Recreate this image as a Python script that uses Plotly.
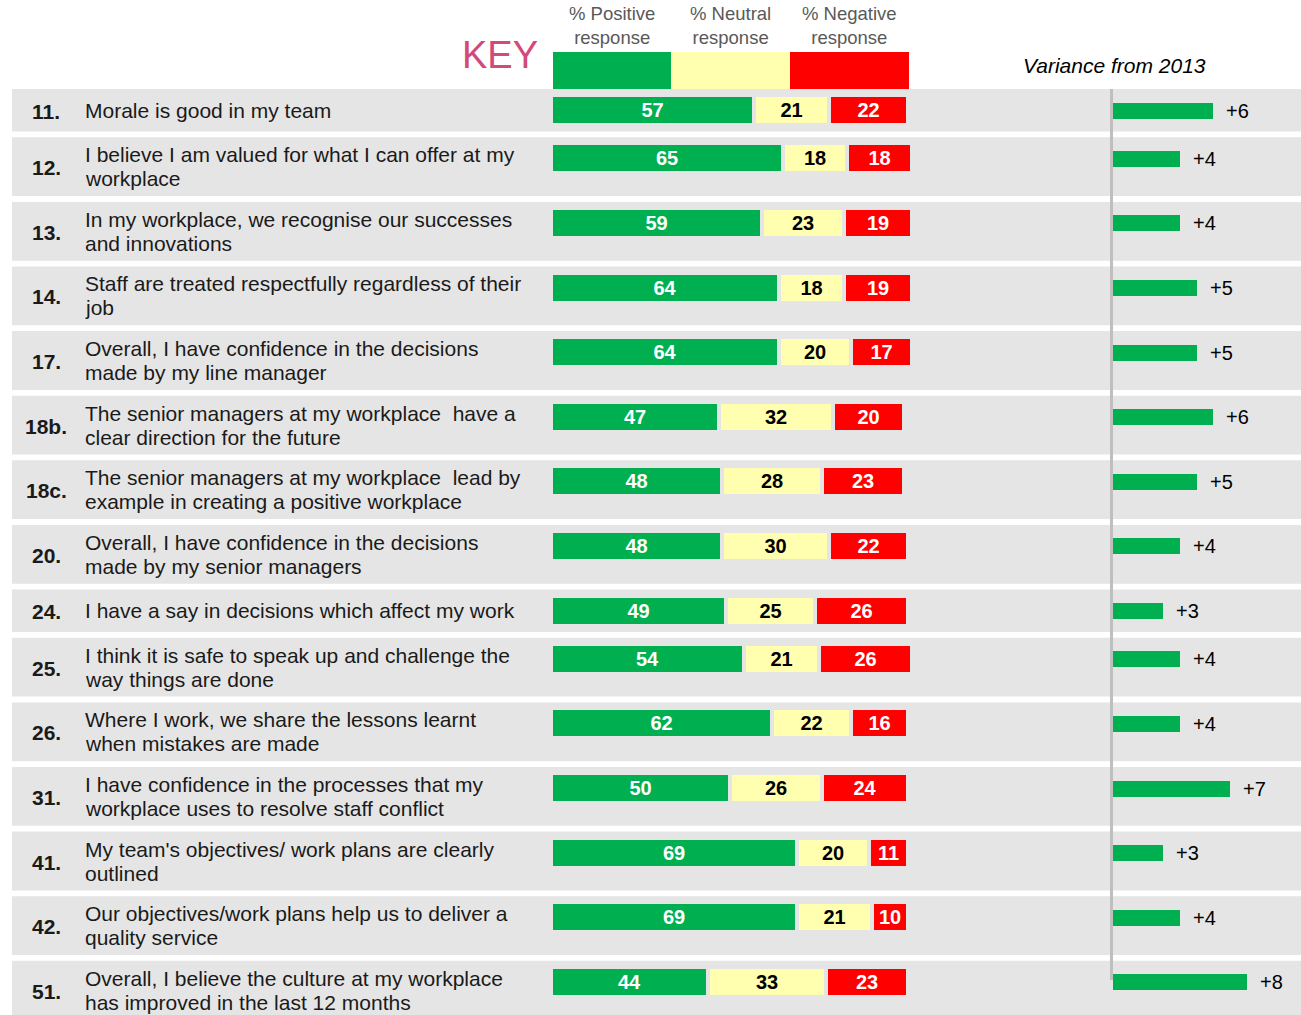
import plotly.graph_objects as go

# ---------------- data ----------------
q_numbers = ["11.", "12.", "13.", "14.", "17.", "18b.", "18c.", "20.", "24.", "25.",
             "26.", "31.", "41.", "42.", "51."]
questions = [
    "Morale is good in my team",
    "I believe I am valued for what I can offer at my<br>workplace",
    "In my workplace, we recognise our successes<br>and innovations",
    "Staff are treated respectfully regardless of their<br>job",
    "Overall, I have confidence in the decisions<br>made by my line manager",
    "The senior managers at my workplace \u00a0have a<br>clear direction for the future",
    "The senior managers at my workplace \u00a0lead by<br>example in creating a positive workplace",
    "Overall, I have confidence in the decisions<br>made by my senior managers",
    "I have a say in decisions which affect my work",
    "I think it is safe to speak up and challenge the<br>way things are done",
    "Where I work, we share the lessons learnt<br>when mistakes are made",
    "I have confidence in the processes that my<br>workplace uses to resolve staff conflict",
    "My team's objectives/ work plans are clearly<br>outlined",
    "Our objectives/work plans help us to deliver a<br>quality service",
    "Overall, I believe the culture at my workplace<br>has improved in the last 12 months",
]
positive = [57, 65, 59, 64, 64, 47, 48, 48, 49, 54, 62, 50, 69, 69, 44]
neutral = [21, 18, 23, 18, 20, 32, 28, 30, 25, 21, 22, 26, 20, 21, 33]
negative = [22, 18, 19, 19, 17, 20, 23, 22, 26, 26, 16, 24, 11, 10, 23]
variance = [6, 4, 4, 5, 5, 6, 5, 4, 3, 4, 4, 7, 3, 4, 8]
key_labels = ["% Positive<br>response", "% Neutral<br>response", "% Negative<br>response"]
variance_title = "Variance from 2013"

# ---------------- layout helpers ----------------
W, H = 1301, 1015
GREEN, YELLOW, RED = "#00B050", "#FFFFAF", "#FF0000"
GRAY = "#E5E5E5"
FONT = "Liberation Sans, Arial, sans-serif"

first_top = 89.0
gap = 5.8
h_one, h_two = 42.5, 58.8
row_tops, row_heights = [], []
t = first_top
for q in questions:
    h = h_two if "<br>" in q else h_one
    row_tops.append(t)
    row_heights.append(h)
    t += h + gap
bar_centers = [tp + 21 for tp in row_tops]
var_centers = [tp + 21.5 for tp in row_tops]

fig = go.Figure()

seg_line = dict(color=GRAY, width=4)
for vals, col, tcol in [(positive, GREEN, "white"), (neutral, YELLOW, "black"),
                        (negative, RED, "white")]:
    fig.add_trace(go.Bar(
        x=vals, y=bar_centers, orientation="h", width=30,
        marker=dict(color=col, line=seg_line),
        texttemplate="<b>%{x}</b>", textposition="inside", insidetextanchor="middle",
        textfont=dict(color=tcol, size=20, family=FONT),
        xaxis="x", yaxis="y", hoverinfo="skip"))
fig.add_trace(go.Bar(
    x=variance, y=var_centers, orientation="h", width=16,
    marker=dict(color=GREEN, line=dict(width=0)),
    xaxis="x2", yaxis="y", hoverinfo="skip"))

shapes = []
annotations = []
for i, q in enumerate(questions):
    tp, h = row_tops[i], row_heights[i]
    shapes.append(dict(type="rect", xref="paper", yref="y", x0=12 / W, x1=1,
                       y0=tp, y1=tp + h, fillcolor=GRAY, line=dict(width=0), layer="below"))
    yc = tp + h / 2
    annotations.append(dict(text="<b>%s</b>" % q_numbers[i], xref="paper", yref="y",
                            x=46 / W, y=yc + 1, xanchor="center", yanchor="middle",
                            showarrow=False, font=dict(size=21, color="#1A1A1A", family=FONT)))
    lines = q.split("<br>")
    n = len(lines)
    for j, ln in enumerate(lines):
        ly = yc + (j - (n - 1) / 2) * 24
        annotations.append(dict(text=ln, xref="paper", yref="y", x=83 / W, y=ly,
                                xanchor="left", yanchor="middle", showarrow=False,
                                font=dict(size=21, color="#1A1A1A", family=FONT)))
    annotations.append(dict(text="+%d" % variance[i], xref="x2", yref="y",
                            x=variance[i], y=var_centers[i], xanchor="left",
                            yanchor="middle", xshift=11, showarrow=False,
                            font=dict(size=20, color="black", family=FONT)))

main_start_px = 551
main_px_per_unit = 3.57
main_max = 102

# key
key_px = [553, 671, 790, 909]
key_edges = [(p - main_start_px) / main_px_per_unit for p in key_px]
for k, col in enumerate([GREEN, YELLOW, RED]):
    shapes.append(dict(type="rect", xref="x", yref="y", x0=key_edges[k], x1=key_edges[k + 1],
                       y0=52, y1=89, fillcolor=col, line=dict(width=0)))
    annotations.append(dict(text=key_labels[k], xref="x", yref="y",
                            x=(key_edges[k] + key_edges[k + 1]) / 2, y=25,
                            xanchor="center", yanchor="middle", showarrow=False,
                            font=dict(size=18.5, color="#595959", family=FONT)))
annotations.append(dict(text="KEY", xref="paper", yref="y", x=500 / W, y=55,
                        xanchor="center", yanchor="middle", showarrow=False,
                        font=dict(size=38, color="#D2497A", family=FONT)))
annotations.append(dict(text="<i>%s</i>" % variance_title, xref="paper", yref="y",
                        x=1114 / W, y=65, xanchor="center", yanchor="middle",
                        showarrow=False, font=dict(size=21, color="black", family=FONT)))

# variance axis line
shapes.append(dict(type="line", xref="paper", yref="y", x0=1111.5 / W, x1=1111.5 / W,
                   y0=89, y1=980, line=dict(color="#BFBFBF", width=3)))

px_per_unit = 16.72
hidden = dict(showgrid=False, zeroline=False, showticklabels=False, showline=False,
              ticks="", fixedrange=True)
fig.update_layout(
    width=W, height=H,
    margin=dict(l=0, r=0, t=0, b=0, pad=0),
    paper_bgcolor="white", plot_bgcolor="rgba(0,0,0,0)",
    barmode="stack", bargap=0, showlegend=False,
    xaxis=dict(domain=[main_start_px / W, (main_start_px + main_px_per_unit * main_max) / W],
               range=[0, main_max], **hidden),
    xaxis2=dict(domain=[1113 / W, 1], range=[0, (W - 1113) / px_per_unit],
                anchor="y", **hidden),
    yaxis=dict(domain=[0, 1], range=[H, 0], **hidden),
    shapes=shapes, annotations=annotations,
)
fig.update_traces(cliponaxis=False)

fig.write_html("out.html", config={"displayModeBar": False},
               post_script="document.body.style.margin='0';")
